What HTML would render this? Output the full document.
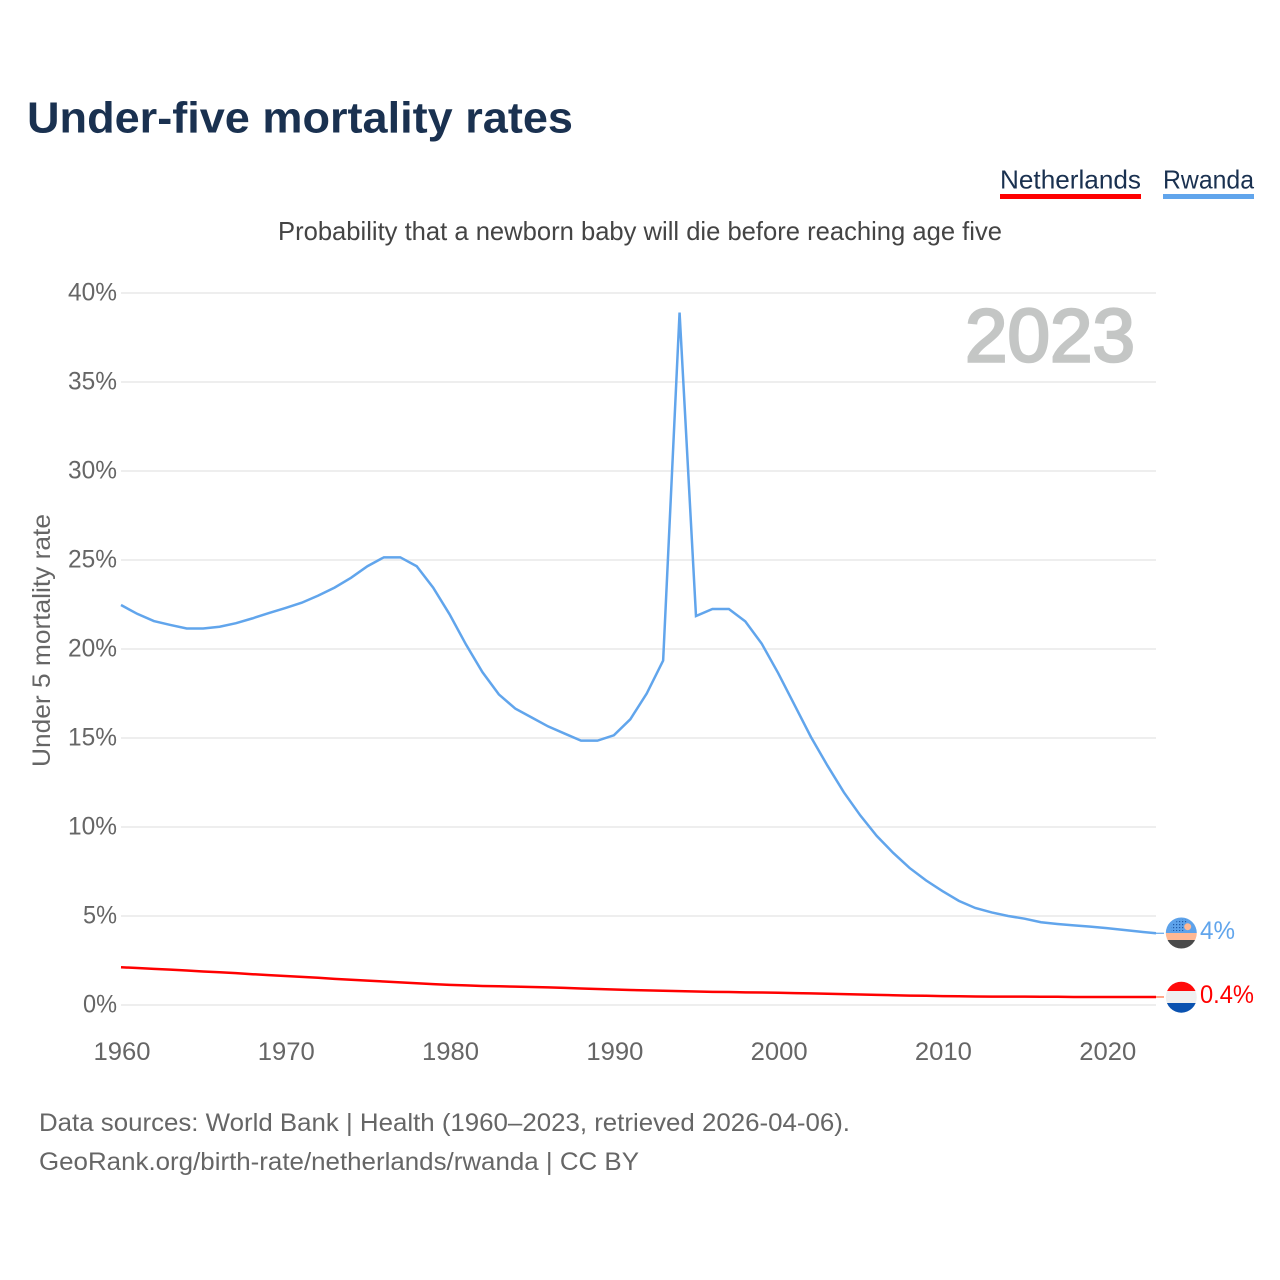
<!DOCTYPE html>
<html lang="en">
<head>
<meta charset="utf-8">
<title>Under-five mortality rates</title>
<style>
html,body{margin:0;padding:0;background:#fff;width:1280px;height:1280px;overflow:hidden}
svg{display:block}
text{font-family:"Liberation Sans",sans-serif}
.tick{font-size:25px;fill:#666}
.foot{font-size:25px;fill:#666}
</style>
</head>
<body>
<svg id="chart" xmlns="http://www.w3.org/2000/svg" width="1280" height="1280" viewBox="0 0 1280 1280">
  <defs>
    <pattern id="rw-dots" width="3" height="3" patternUnits="userSpaceOnUse">
      <rect x="0" y="0" width="1.200" height="1.200" fill="#1f5aa8"/>
    </pattern>
    <clipPath id="rw"><circle cx="1181.300" cy="933" r="15.500"/></clipPath>
    <clipPath id="nl"><circle cx="1181.300" cy="997.200" r="15.500"/></clipPath>
  </defs>
  <text x="27" y="132.500" font-size="44" font-weight="700" fill="#1a3150" textLength="546" lengthAdjust="spacingAndGlyphs">Under-five mortality rates</text>
  <g>
    <text x="1000" y="188.500" font-size="26" fill="#1a3150" textLength="141" lengthAdjust="spacingAndGlyphs">Netherlands</text>
    <rect x="1000" y="194" width="141" height="5" fill="#ff0000"/>
    <text x="1163" y="188.500" font-size="26" fill="#1a3150" textLength="91" lengthAdjust="spacingAndGlyphs">Rwanda</text>
    <rect x="1163" y="194" width="91" height="5" fill="#61a5ec"/>
  </g>
  <text x="278" y="240" font-size="26" fill="#444" textLength="724" lengthAdjust="spacingAndGlyphs">Probability that a newborn baby will die before reaching age five</text>
  <text transform="translate(50,767) rotate(-90)" font-size="25" fill="#666" textLength="253" lengthAdjust="spacingAndGlyphs">Under 5 mortality rate</text>
  <g id="grid"></g>
  <g id="yticks"></g>
  <g id="xticks"></g>
  <text x="965" y="361.500" font-size="75" font-weight="400" fill="#c4c6c5" stroke="#c4c6c5" stroke-width="2.500" textLength="170" lengthAdjust="spacingAndGlyphs">2023</text>
  <g id="series"></g>

  <g>
    <g clip-path="url(#rw)">
      <rect x="1165" y="917" width="33" height="16" fill="#5da2ea"/>
      <rect x="1165" y="933" width="33" height="7" fill="#ffb894"/>
      <rect x="1165" y="940" width="33" height="10" fill="#4a4a4a"/>
      <path d="M1171 931 L1171 925 L1180 919 L1187 919 L1184 931Z" fill="url(#rw-dots)"/>
      <circle cx="1187.700" cy="926.700" r="3.500" fill="#ffb894"/>
    </g>
  </g>
  <text id="rw-label" x="1200" y="939" font-size="25" fill="#61a5ec" textLength="35" lengthAdjust="spacingAndGlyphs">4%</text>

  <g>
    <g clip-path="url(#nl)">
      <rect x="1165" y="981" width="33" height="10" fill="#ff0a0a"/>
      <rect x="1165" y="991" width="33" height="12" fill="#eeeff0"/>
      <rect x="1165" y="1003" width="33" height="11" fill="#0a52b0"/>
    </g>
  </g>
  <text id="nl-label" x="1200" y="1003" font-size="25" fill="#ff0000" textLength="54" lengthAdjust="spacingAndGlyphs">0.4%</text>

  <text x="39" y="1131" class="foot" textLength="811" lengthAdjust="spacingAndGlyphs">Data sources: World Bank | Health (1960–2023, retrieved 2026-04-06).</text>
  <text x="39" y="1170" class="foot" textLength="600" lengthAdjust="spacingAndGlyphs">GeoRank.org/birth-rate/netherlands/rwanda | CC BY</text>
</svg>
<script>
const years = [1960,1961,1962,1963,1964,1965,1966,1967,1968,1969,1970,1971,1972,1973,1974,1975,1976,1977,1978,1979,1980,1981,1982,1983,1984,1985,1986,1987,1988,1989,1990,1991,1992,1993,1994,1995,1996,1997,1998,1999,2000,2001,2002,2003,2004,2005,2006,2007,2008,2009,2010,2011,2012,2013,2014,2015,2016,2017,2018,2019,2020,2021,2022,2023];
const rwanda = [22.47,21.97,21.57,21.35,21.15,21.15,21.25,21.45,21.72,22.02,22.3,22.6,23.0,23.45,24.0,24.65,25.15,25.15,24.65,23.45,21.95,20.25,18.7,17.45,16.65,16.15,15.65,15.25,14.85,14.85,15.15,16.05,17.5,19.35,38.9,21.85,22.25,22.25,21.55,20.3,18.65,16.85,15.05,13.45,11.95,10.65,9.5,8.55,7.7,7.0,6.4,5.85,5.45,5.2,5.0,4.85,4.65,4.55,4.47,4.4,4.32,4.22,4.12,4.03];
const netherlands = [2.12,2.08,2.03,1.99,1.94,1.88,1.84,1.79,1.73,1.68,1.63,1.58,1.53,1.47,1.42,1.37,1.32,1.27,1.22,1.17,1.13,1.1,1.07,1.05,1.03,1.01,0.99,0.96,0.93,0.9,0.87,0.84,0.82,0.8,0.78,0.76,0.74,0.73,0.71,0.7,0.69,0.67,0.65,0.63,0.61,0.59,0.57,0.55,0.53,0.52,0.5,0.49,0.48,0.47,0.47,0.47,0.46,0.46,0.45,0.45,0.45,0.45,0.45,0.45];
const yTickValues = [0,5,10,15,20,25,30,35,40];
const xTickValues = [1960,1970,1980,1990,2000,2010,2020];

const NS = 'http://www.w3.org/2000/svg';
function xScale(year){ return 121 + (year - 1960) * (1156 - 121) / (2023 - 1960); }
function yScale(pct){ return 1005 - pct * (1005 - 293) / 40; }

const grid = document.getElementById('grid');
const yticks = document.getElementById('yticks');
const xticks = document.getElementById('xticks');
const seriesGroup = document.getElementById('series');

yTickValues.forEach(function(v){
  const line = document.createElementNS(NS, 'line');
  
  
  line.setAttribute('x1', 121);
  line.setAttribute('x2', 1156);
  line.setAttribute('y1', yScale(v));
  line.setAttribute('y2', yScale(v));
  line.setAttribute('stroke', '#eeeeee');
  line.setAttribute('stroke-width', 2);
  grid.appendChild(line);

  const t = document.createElementNS(NS, 'text');
  
  
  t.setAttribute('class', 'tick');
  t.setAttribute('x', 117);
  t.setAttribute('y', yScale(v) + 7.5);
  t.setAttribute('text-anchor', 'end');
  t.setAttribute('textLength', v < 10 ? 34 : 49);
  t.setAttribute('lengthAdjust', 'spacingAndGlyphs');
  t.textContent = v + '%';
  yticks.appendChild(t);
});

xTickValues.forEach(function(v){
  const t = document.createElementNS(NS, 'text');
  
  
  t.setAttribute('class', 'tick');
  t.setAttribute('x', xScale(v) + 1);
  t.setAttribute('y', 1060);
  t.setAttribute('text-anchor', 'middle');
  t.setAttribute('textLength', 57);
  t.setAttribute('lengthAdjust', 'spacingAndGlyphs');
  t.textContent = v;
  xticks.appendChild(t);
});

function pointsFor(values){
  return values.map(function(v, i){
    return xScale(years[i]).toFixed(2) + ',' + yScale(v).toFixed(2);
  }).join(' ');
}

function addConnector(values, color, name){
  const last = values[values.length - 1];
  const c = document.createElementNS(NS, 'line');
  
  
  c.setAttribute('x1', 1156);
  c.setAttribute('x2', 1164);
  c.setAttribute('y1', yScale(last));
  c.setAttribute('y2', yScale(last));
  c.setAttribute('stroke', color);
  c.setAttribute('stroke-width', 1.2);
  seriesGroup.appendChild(c);
}

const netherlandsLine = document.createElementNS(NS, 'polyline');


netherlandsLine.setAttribute('points', pointsFor(netherlands));
netherlandsLine.setAttribute('fill', 'none');
netherlandsLine.setAttribute('stroke', '#ff0000');
netherlandsLine.setAttribute('stroke-width', 2.5);
seriesGroup.appendChild(netherlandsLine);
addConnector(netherlands, '#ff6a3a', 'netherlands-connector');

const rwandaLine = document.createElementNS(NS, 'polyline');


rwandaLine.setAttribute('points', pointsFor(rwanda));
rwandaLine.setAttribute('fill', 'none');
rwandaLine.setAttribute('stroke', '#61a5ec');
rwandaLine.setAttribute('stroke-width', 2.5);
seriesGroup.appendChild(rwandaLine);
addConnector(rwanda, '#61a5ec', 'rwanda-connector');
</script>
</body>
</html>
